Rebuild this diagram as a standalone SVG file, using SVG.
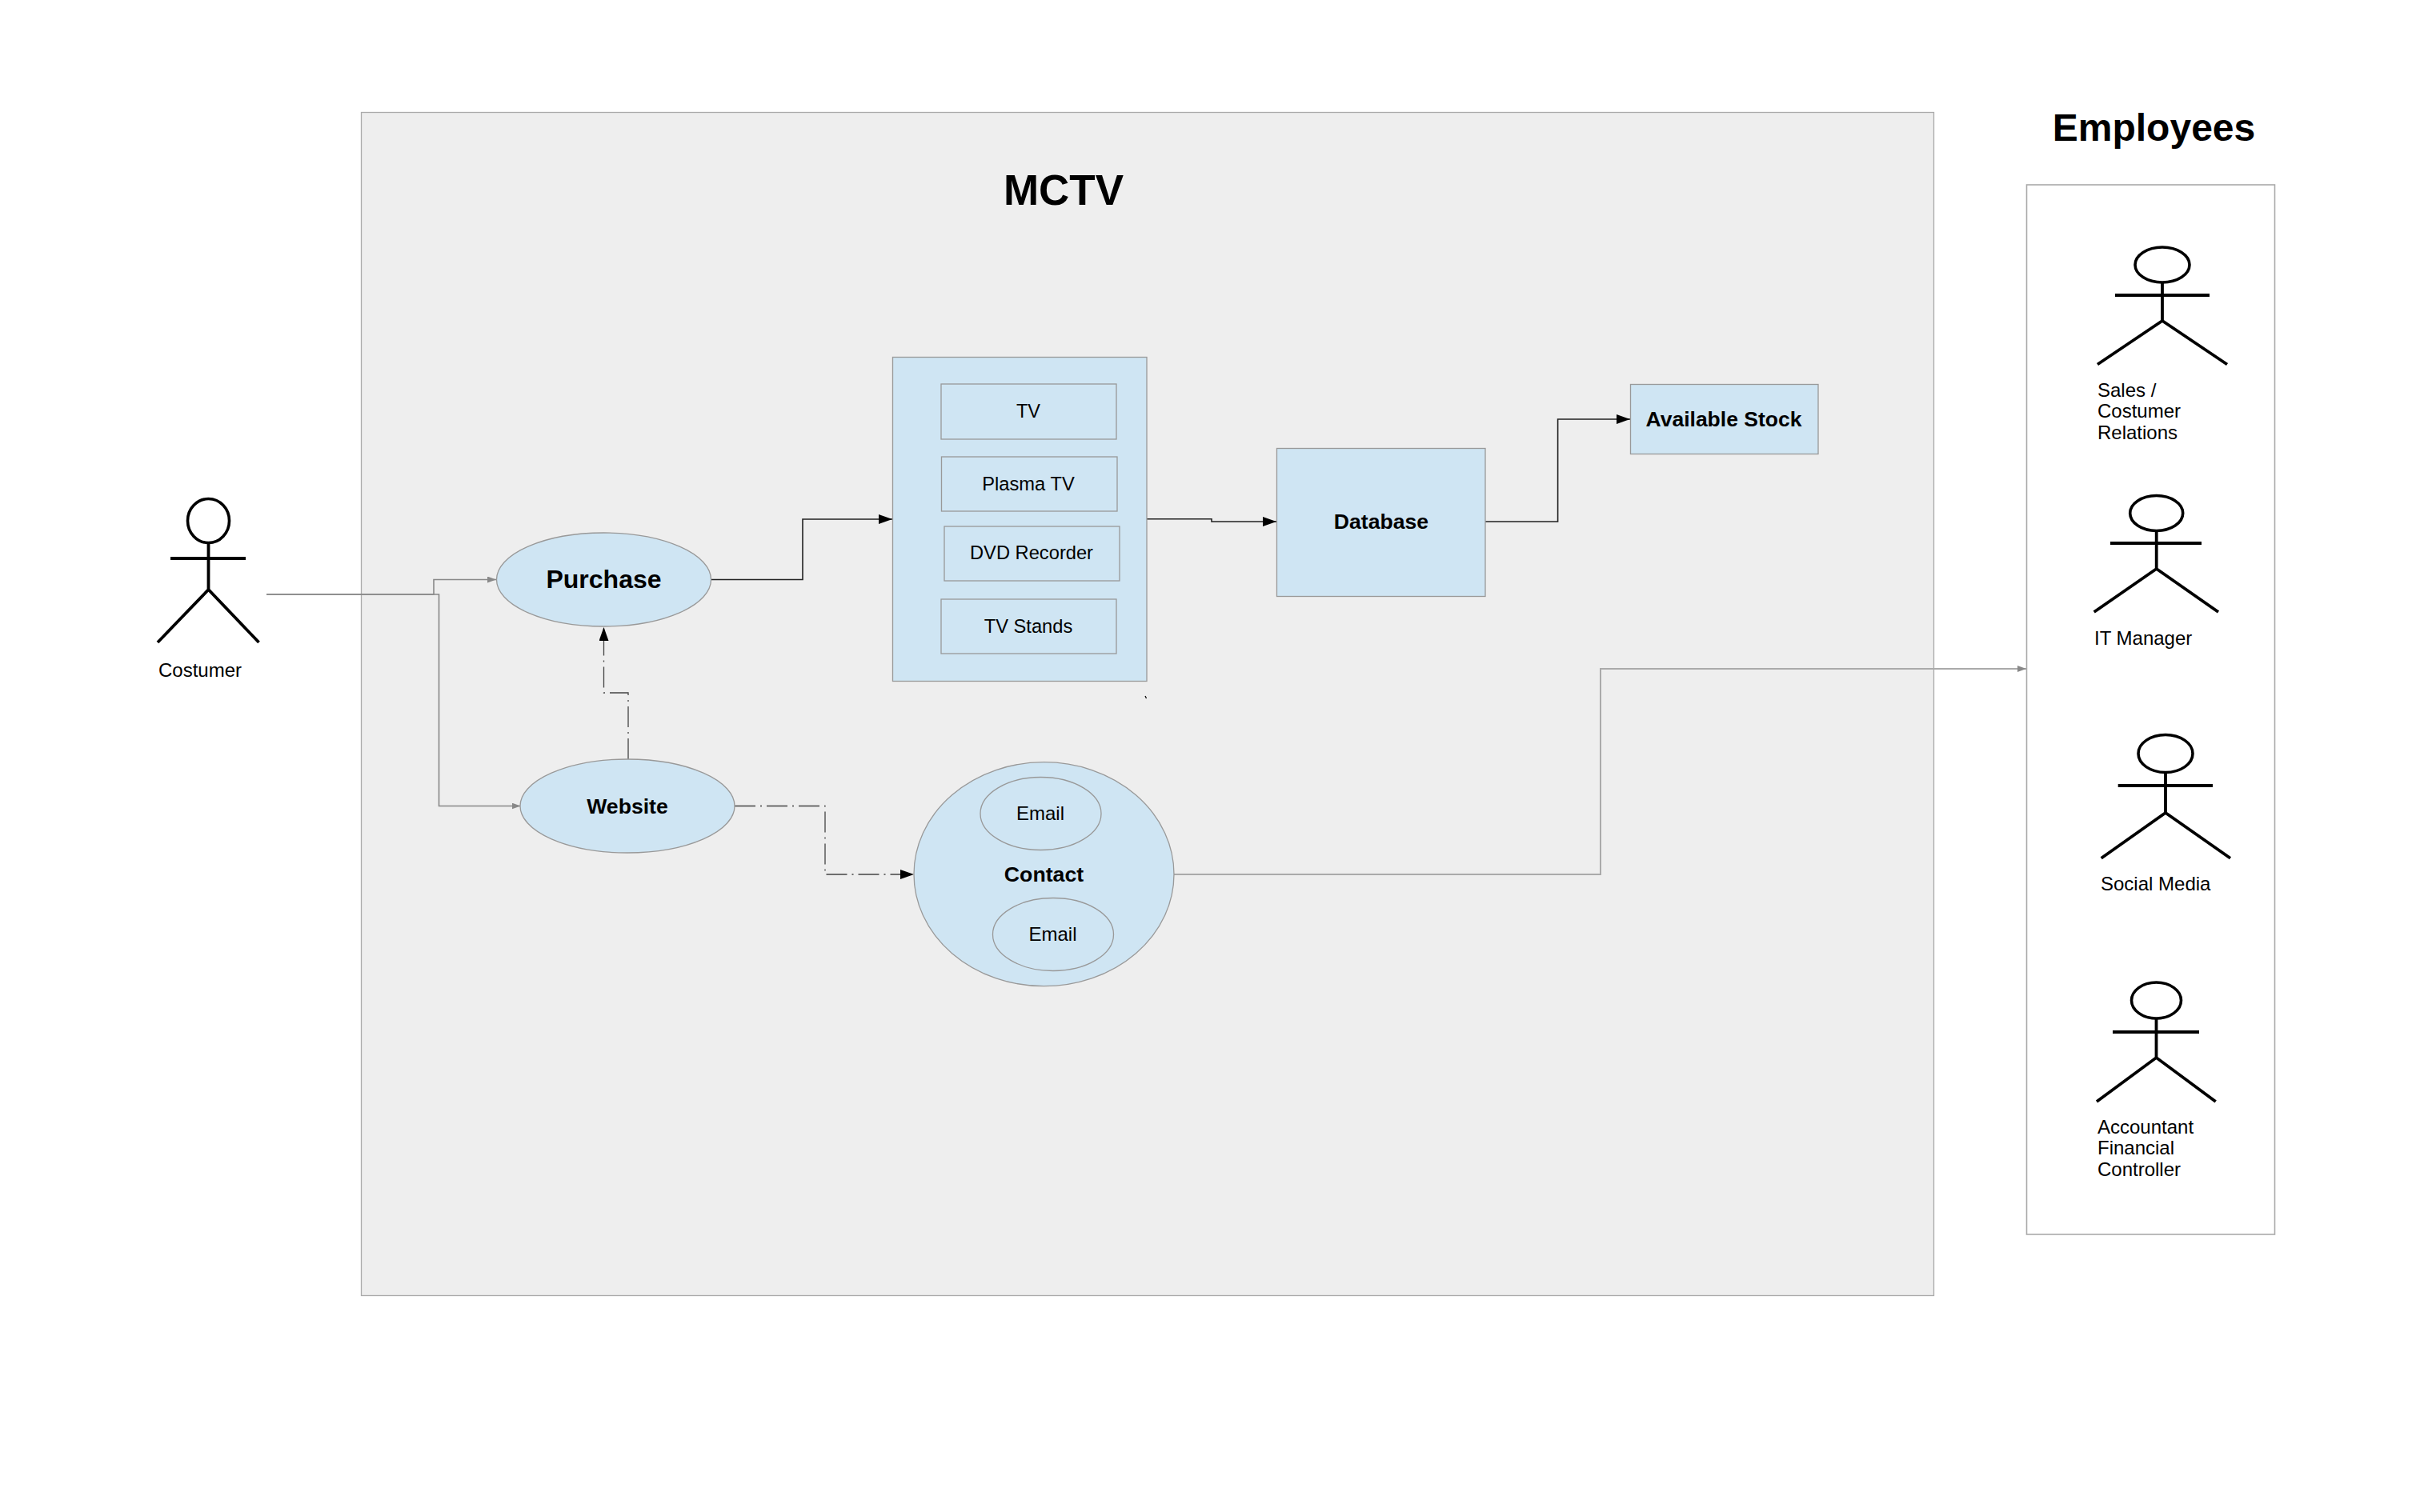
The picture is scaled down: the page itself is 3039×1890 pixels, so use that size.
<svg xmlns="http://www.w3.org/2000/svg" width="3039" height="1890" viewBox="0 0 3039 1890">
<style>
text{font-family:"Liberation Sans",Arial,sans-serif;fill:#000}
.b{font-weight:bold}
.m{text-anchor:middle}
.n{font-size:24px}
.box{fill:#cfe5f3;stroke:#999;stroke-width:1.3}
.c{fill:none;stroke-width:1.6}
.k{stroke:#222}
.g{stroke:#888}
.lg{stroke:#aaa;stroke-width:2}
.d{stroke:#444;stroke-width:1.3;stroke-dasharray:26 6 2 6}
.actor{fill:none;stroke:#000;stroke-width:3.8}
.head{fill:#fff;stroke:#000;stroke-width:3.6}
</style>
<defs>
<marker id="ak" markerUnits="userSpaceOnUse" markerWidth="18" markerHeight="12" refX="17" refY="6" orient="auto"><path d="M0 0L17 6L0 12Z" fill="#000"/></marker>
<marker id="ag" markerUnits="userSpaceOnUse" markerWidth="12" markerHeight="10" refX="11" refY="4" orient="auto"><path d="M0 0L11 4L0 8Z" fill="#888"/></marker>
</defs>
<rect width="3039" height="1890" fill="#fff"/>
<g id="mctv"><rect x="451.5" y="140.5" width="1965" height="1479" fill="#eee" stroke="#aaa" stroke-width="1.3"/><text x="1329" y="256" class="b m" font-size="53">MCTV</text></g>
<g id="employees"><rect x="2532.5" y="231" width="310" height="1312" fill="#fff" stroke="#aaa" stroke-width="1.6"/><text x="2691.5" y="176" class="b m" font-size="48">Employees</text></g>
<g id="connectors">
<path class="c g" d="M333 743H542V724.5H620" marker-end="url(#ag)"/>
<path class="c g" d="M333 743H548.5V1007.5H650.5" marker-end="url(#ag)"/>
<path class="c d" d="M785 949V866H754.5V784" marker-end="url(#ak)"/>
<path class="c d" d="M918 1007.5H1031V1093H1142" marker-end="url(#ak)"/>
<path class="c k" d="M888 724.5H1003V649H1115" marker-end="url(#ak)"/>
<path class="c k" d="M1433 648.7H1514V652H1595" marker-end="url(#ak)"/>
<path class="c k" d="M1856 652H1946.6V524H2037" marker-end="url(#ak)"/>
<path class="c lg" d="M1467 1093H2000V836H2532" marker-end="url(#ag)"/>
<path d="M1431 870L1432.5 873" stroke="#000" stroke-width="1.2" fill="none"/>
</g>
<g id="purchase"><ellipse class="box" cx="754.5" cy="724.5" rx="134" ry="58.5"/><text x="754.5" y="735" class="b m" font-size="32">Purchase</text></g>
<g id="website"><ellipse class="box" cx="784" cy="1007.5" rx="134" ry="58.5"/><text x="784" y="1016.5" class="b m" font-size="26.6">Website</text></g>
<g id="products"><rect class="box" x="1115.5" y="446.5" width="317.5" height="405"/></g>
<g id="tv"><rect class="box" x="1176" y="480" width="219" height="69"/><text x="1285" y="521.5" class="m" font-size="23.5">TV</text></g>
<g id="plasma"><rect class="box" x="1176.5" y="571" width="219.5" height="68"/><text x="1285" y="612.5" class="m" font-size="23.7">Plasma TV</text></g>
<g id="dvd"><rect class="box" x="1180" y="658" width="219" height="68"/><text x="1289" y="699" class="m" font-size="23.7">DVD Recorder</text></g>
<g id="stands"><rect class="box" x="1176" y="749" width="219" height="68"/><text x="1285" y="790.5" class="m" font-size="23.7">TV Stands</text></g>
<g id="database"><rect class="box" x="1595.5" y="560.5" width="260.5" height="185"/><text x="1726" y="661" class="b m" font-size="26.6">Database</text></g>
<g id="stock"><rect class="box" x="2037.5" y="480.5" width="234.5" height="87"/><text x="2154" y="532.5" class="b m" font-size="26.5">Available Stock</text></g>
<g id="contact"><ellipse class="box" cx="1304.5" cy="1092.7" rx="162.5" ry="140"/><text x="1304.5" y="1102" class="b m" font-size="26.7">Contact</text>
<ellipse class="box" cx="1300.5" cy="1017" rx="75.5" ry="45.5"/><text x="1300" y="1025" class="m n">Email</text>
<ellipse class="box" cx="1316" cy="1168" rx="75.5" ry="45.5"/><text x="1315.5" y="1176" class="m n">Email</text></g>
<g id="costumer"><ellipse class="head" cx="260.5" cy="651" rx="26" ry="27.5"/><path class="actor" d="M260.5 678V737M213 698H307M197 803L260.5 737L323.5 803"/><text x="198" y="846" class="n">Costumer</text></g>
<g id="sales"><ellipse class="head" cx="2702" cy="331" rx="34" ry="22"/><path class="actor" d="M2702 353V401M2643 369H2761M2621 455.5L2702 401L2783 455.5"/><text x="2621" y="495.5" class="n">Sales /</text><text x="2621" y="522" class="n">Costumer</text><text x="2621" y="549" class="n">Relations</text></g>
<g id="it"><ellipse class="head" cx="2694.7" cy="641.5" rx="33" ry="22"/><path class="actor" d="M2694.7 663V711M2637 679H2751M2616.7 765L2694.7 711L2772 765"/><text x="2617" y="806" class="n">IT Manager</text></g>
<g id="social"><ellipse class="head" cx="2706" cy="942" rx="34" ry="23.5"/><path class="actor" d="M2706 965V1016M2646.7 982H2765M2625.7 1072.7L2706 1016L2787 1072.7"/><text x="2625" y="1113" class="n">Social Media</text></g>
<g id="accountant"><ellipse class="head" cx="2694.5" cy="1250.5" rx="31" ry="22.5"/><path class="actor" d="M2694.5 1273V1322M2640 1290H2748M2620 1377L2694.5 1322L2768.7 1377"/><text x="2621" y="1416.7" class="n">Accountant</text><text x="2621" y="1443" class="n">Financial</text><text x="2621" y="1470" class="n">Controller</text></g>
</svg>
